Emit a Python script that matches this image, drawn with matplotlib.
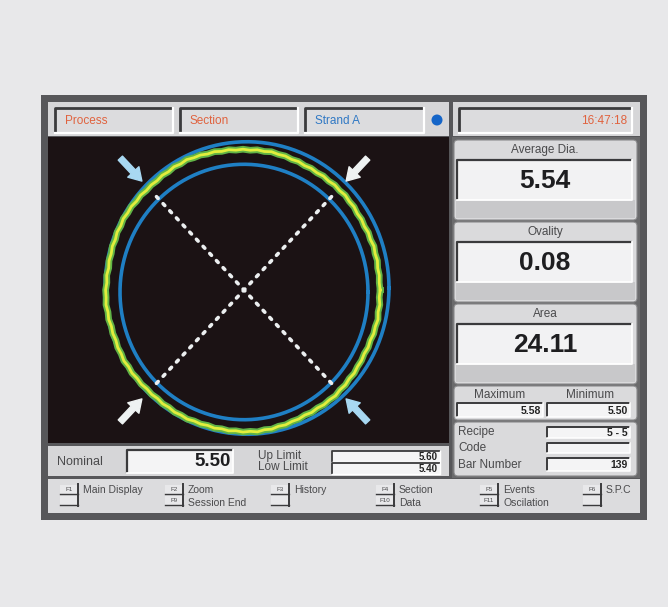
import matplotlib
matplotlib.use("Agg")
import matplotlib.pyplot as plt
import numpy as np
from matplotlib.patches import Rectangle, FancyBboxPatch, Circle

plt.rcParams['font.family'] = ['Liberation Sans', 'DejaVu Sans']

# ---- data ----
header_tabs = ["Process", "Section", "Strand A"]
clock = "16:47:18"

reading_titles = ["Average Dia.", "Ovality", "Area"]
reading_values = ["5.54", "0.08", "24.11"]
maxmin_titles = ["Maximum", "Minimum"]
maxmin_values = [5.58, 5.50]
info_labels = ["Recipe", "Code", "Bar Number"]
info_values = ["5 - 5", "", "139"]

nominal = 5.50
up_limit = 5.60
low_limit = 5.40

fkey_top = ["F1", "F2", "F3", "F4", "F5", "F6"]
fkey_top_text = ["Main Display", "Zoom", "History", "Section", "Events", "S.P.C"]
fkey_bot = ["", "F9", "", "F10", "F11", ""]
fkey_bot_text = ["", "Session End", "", "Data", "Oscilation", ""]

# measured diameter profile, one value every 3 degrees
profile = [5.546, 5.538, 5.551, 5.542, 5.556, 5.544, 5.549, 5.537, 5.545, 5.534, 5.543, 5.539,
           5.550, 5.541, 5.553, 5.545, 5.558, 5.547, 5.552, 5.540, 5.548, 5.536, 5.546, 5.541,
           5.552, 5.544, 5.557, 5.548, 5.561, 5.549, 5.555, 5.543, 5.550, 5.538, 5.546, 5.535,
           5.543, 5.536, 5.547, 5.537, 5.544, 5.532, 5.540, 5.529, 5.538, 5.531, 5.542, 5.536,
           5.547, 5.539, 5.551, 5.540, 5.546, 5.535, 5.543, 5.536, 5.548, 5.541, 5.553, 5.545,
           5.549, 5.537, 5.545, 5.533, 5.544, 5.538, 5.549, 5.541, 5.554, 5.546, 5.559, 5.549,
           5.556, 5.544, 5.552, 5.540, 5.547, 5.539, 5.551, 5.543, 5.557, 5.548, 5.562, 5.550,
           5.553, 5.541, 5.548, 5.536, 5.544, 5.533, 5.541, 5.532, 5.543, 5.535, 5.547, 5.537,
           5.542, 5.531, 5.539, 5.528, 5.538, 5.530, 5.542, 5.534, 5.547, 5.539, 5.551, 5.541,
           5.548, 5.536, 5.544, 5.535, 5.547, 5.539, 5.552, 5.541, 5.549, 5.537, 5.545, 5.538]
max_axis = [46.0, 226.0]   # screen angles of maximum diameter
min_axis = [134.0, 314.0]  # screen angles of minimum diameter

# ---- colours ----
BG = "#e8e8ea"
FRAME = "#57575a"
BAR = "#d6d6d8"
BOXF = "#eeeeef"
DARK = "#3a3a3c"
RED = "#e0623e"
BLUE = "#2f78c4"
TXT = "#4a4a4c"

fig = plt.figure(figsize=(6.68, 6.07), dpi=100)
fig.patch.set_facecolor(BG)
ax = fig.add_axes([0, 0, 1, 1])
ax.set_xlim(0, 668)
ax.set_ylim(607, 0)
ax.axis("off")


def rect(x0, y0, x1, y1, fc, z=1):
    ax.add_patch(Rectangle((x0, y0), x1 - x0, y1 - y0, facecolor=fc, edgecolor="none", zorder=z))


def inset(x0, y0, x1, y1, fc=BOXF, lw=1.4, z=3):
    rect(x0, y0, x1, y1, fc, z)
    ax.plot([x0, x0, x1], [y1, y0, y0], color=DARK, lw=lw, zorder=z + 0.1, solid_capstyle="butt")
    ax.plot([x0, x1, x1], [y1, y1, y0], color="white", lw=lw * 0.8, zorder=z + 0.1)


def panel(x0, y0, x1, y1, fc="#dadadc", z=2):
    ax.add_patch(FancyBboxPatch((x0, y0), x1 - x0, y1 - y0, boxstyle="round,pad=0,rounding_size=4",
                                facecolor=fc, edgecolor="#8a8a8c", lw=0.8, zorder=z))


# frame
rect(41, 95, 647, 520, FRAME, 0.5)

# header
rect(48, 102, 449, 136, BAR)
rect(453, 102, 640, 136, BAR)
tab_x = [(55, 173), (180, 298), (305, 424)]
tab_col = [RED, RED, BLUE]
for (a, b), lab, c in zip(tab_x, header_tabs, tab_col):
    inset(a, 108, b, 133, fc="#dcdcde", lw=2)
    ax.text(a + 10, 121, lab, color=c, fontsize=8.5, va="center", ha="left", zorder=5)
ax.add_patch(Circle((437, 120), 5.5, facecolor="#1565c8", edgecolor="none", zorder=5))
inset(459, 108, 632, 133, fc="#dcdcde", lw=2)
ax.text(627, 121, clock, color=RED, fontsize=8.5, va="center", ha="right", zorder=5)

# plot area
rect(48, 137, 449, 443, "#1b1214")

cx, cy, sy = 244, 290, 1.03


def to_r(d):
    return 133 + 90 * (d - nominal)


theta = np.deg2rad(np.arange(len(profile)) * 360.0 / len(profile))
theta = np.append(theta, theta[0])
prof = np.append(profile, profile[0])
t = np.linspace(0, 2 * np.pi, 400)
for d, dx, dy in [(up_limit, 3, -2), (low_limit, 0, 2)]:
    r = to_r(d)
    ax.plot(cx + dx + r * np.cos(t), cy + dy + sy * r * np.sin(t), color="#1f7fc4", lw=2.6, zorder=4)
rp = to_r(prof)
px = cx - 1 + rp * np.cos(theta)
py = cy + sy * rp * np.sin(theta)
ax.plot(px, py, color="#62b446", lw=4.8, zorder=5, solid_joinstyle="round")
ax.plot(px, py, color="#e2ee3c", lw=2.0, zorder=5.1, solid_joinstyle="round")

rl = to_r(low_limit) + 2
for axis in (max_axis, min_axis):
    a1, a2 = np.deg2rad(axis)
    ax.plot([cx + rl * np.cos(a1), cx + rl * np.cos(a2)],
            [cy + sy * rl * np.sin(a1), cy + sy * rl * np.sin(a2)],
            color="#eceff0", lw=2.6, ls=(0, (0.7, 2.0)), dash_capstyle="round", zorder=6)

for axis, col in ((max_axis, "#a8d8f2"), (min_axis, "#eef2f2")):
    for ang in np.deg2rad(axis):
        head = (cx + 147 * np.cos(ang), cy + 147 * sy * np.sin(ang))
        tail = (cx + 178 * np.cos(ang), cy + 178 * sy * np.sin(ang))
        ax.annotate("", xy=head, xytext=tail, zorder=7,
                    arrowprops=dict(arrowstyle="simple,head_length=0.9,head_width=1.1,tail_width=0.42",
                                    color=col, shrinkA=0, shrinkB=0))

# right column
rect(452, 137, 640, 478, "#6a6a6c")
rows = [(140, 220), (222, 302), (304, 384)]
for (a, b), title, val in zip(rows, reading_titles, reading_values):
    panel(454, a, 637, b)
    rect(456, b - 20, 635, b - 2, "#c8c8ca", 2.5)
    inset(457, a + 20, 632, b - 20, fc="#f2f2f3", lw=1.6)
    ax.text(545, a + 10, title, color=TXT, fontsize=8.5, ha="center", va="center", zorder=6)
    ax.text(545, (a + b) / 2 + 1, val, color="#1e1e20", fontsize=19, fontweight="bold",
            ha="center", va="center", zorder=6)

panel(454, 386, 637, 420)
for xc, (a, b), title, val in zip([500, 590], [(457, 543), (547, 630)], maxmin_titles, maxmin_values):
    ax.text(xc, 395, title, color=TXT, fontsize=8.5, ha="center", va="center", zorder=6)
    inset(a, 403, b, 417, fc="#f4f4f5", lw=1.4)
    ax.text(b - 2, 410.5, "%.2f" % val, color="#222", fontsize=7.5, fontweight="bold",
            ha="right", va="center", zorder=6)

panel(454, 422, 637, 476)
for yc, (a, b), lab, val in zip([432, 448, 465], [(427, 438), (443, 453), (458, 471)], info_labels, info_values):
    ax.text(458, yc, lab, color=TXT, fontsize=8.5, ha="left", va="center", zorder=6)
    inset(547, a, 630, b, fc="#f4f4f5", lw=1.4)
    ax.text(628, (a + b) / 2, val, color="#222", fontsize=7.5, fontweight="bold",
            ha="right", va="center", zorder=6)

# nominal bar
rect(48, 446, 449, 476, BAR)
ax.text(57, 462, "Nominal", color=TXT, fontsize=9, ha="left", va="center", zorder=6)
inset(127, 450, 233, 473, fc="#f4f4f5", lw=1.6)
ax.text(231, 461.5, "%.2f" % nominal, color="#1e1e20", fontsize=13.5, fontweight="bold",
        ha="right", va="center", zorder=6)
ax.text(258, 455.5, "Up Limit", color=TXT, fontsize=8.5, ha="left", va="center", zorder=6)
ax.text(258, 467, "Low Limit", color=TXT, fontsize=8.5, ha="left", va="center", zorder=6)
inset(332, 451, 440, 462, fc="#f4f4f5", lw=1.3)
inset(332, 463, 440, 474, fc="#f4f4f5", lw=1.3)
ax.text(438, 456.5, "%.2f" % up_limit, color="#222", fontsize=7, fontweight="bold", ha="right", va="center", zorder=6)
ax.text(438, 468.5, "%.2f" % low_limit, color="#222", fontsize=7, fontweight="bold", ha="right", va="center", zorder=6)

# function key bar
rect(48, 479, 640, 513, "#dcdcde")
key_x = [60, 165, 271, 376, 480, 583]
for kx, k1, t1, k2, t2 in zip(key_x, fkey_top, fkey_top_text, fkey_bot, fkey_bot_text):
    for ky, k in ((485, k1), (496, k2)):
        rect(kx, ky, kx + 18, ky + 9, "#e8e8ea", 3)
        ax.plot([kx, kx + 18], [ky + 9, ky + 9], color=DARK, lw=1, zorder=4)
        if k:
            ax.text(kx + 9, ky + 4.5, k, color=TXT, fontsize=4.5, ha="center", va="center", zorder=5)
    ax.plot([kx + 18, kx + 18], [484, 506], color=DARK, lw=1.4, zorder=4)
    ax.text(kx + 23, 490, t1, color=TXT, fontsize=7.5, ha="left", va="center", zorder=5)
    if t2:
        ax.text(kx + 23, 502.5, t2, color=TXT, fontsize=7.5, ha="left", va="center", zorder=5)

fig.savefig("out.png", dpi=100, facecolor=BG)
